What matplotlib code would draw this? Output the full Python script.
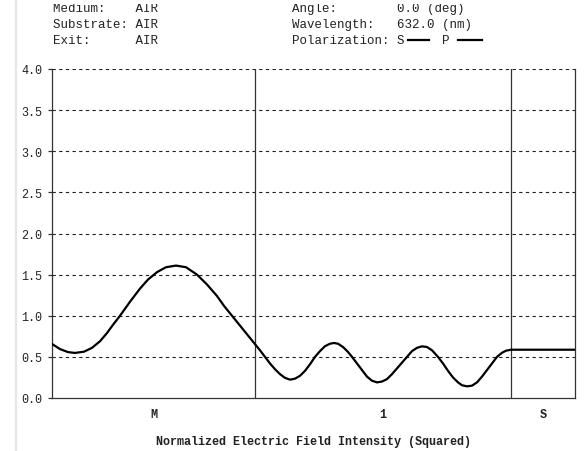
import matplotlib
matplotlib.use("Agg")
import matplotlib.pyplot as plt
from matplotlib.lines import Line2D
from matplotlib.patches import Rectangle

# ---- data (position across the stack, arbitrary units) ----
boundaries = [0, 203, 459, 523]          # M | layer 1 | S
region_labels = ["M", "1", "S"]

position_m = [0, 8, 16, 23, 32, 40, 48, 55, 61, 68, 78, 88, 96, 105, 114, 124,
              134, 145, 155, 165, 172, 180, 188, 196, 203]
intensity_m = [0.657, 0.595, 0.558, 0.548, 0.563, 0.61, 0.69, 0.79, 0.89, 1.00,
               1.17, 1.33, 1.44, 1.53, 1.59, 1.61, 1.59, 1.50, 1.38, 1.24, 1.12,
               1.00, 0.88, 0.76, 0.655]

position_layer = [208, 213, 218, 223, 228, 233, 238, 243, 248, 253,
                  258, 263, 268, 273, 278, 282, 286, 291, 296, 300,
                  305, 310, 315, 320, 325, 330, 335, 340, 345, 350,
                  355, 360, 365, 370, 375, 380, 386, 391, 396, 401,
                  406, 410, 415, 420, 425, 430, 435, 440, 445, 450,
                  454, 459]
intensity_layer = [0.58, 0.50, 0.42, 0.35, 0.29, 0.245, 0.223, 0.235, 0.27, 0.33,
                   0.41, 0.50, 0.57, 0.63, 0.66, 0.669, 0.66, 0.62, 0.56, 0.50,
                   0.42, 0.34, 0.26, 0.21, 0.19, 0.20, 0.23, 0.29, 0.36, 0.43,
                   0.50, 0.57, 0.61, 0.628, 0.62, 0.58, 0.50, 0.42, 0.33, 0.25,
                   0.19, 0.155, 0.142, 0.15, 0.19, 0.26, 0.34, 0.42, 0.50, 0.55,
                   0.575, 0.587]

position_s = [523]
intensity_s = [0.587]

yticks = [0.0, 0.5, 1.0, 1.5, 2.0, 2.5, 3.0, 3.5, 4.0]

header_left = ["Medium:    AIR", "Substrate: AIR", "Exit:      AIR"]
header_right = ["Angle:        0.0 (deg)", "Wavelength:   632.0 (nm)",
                "Polarization: S     P"]
xlabel = "Normalized Electric Field Intensity (Squared)"

position = position_m + position_layer + position_s
intensity = intensity_m + intensity_layer + intensity_s

W, H = 584, 452
fig = plt.figure(figsize=(W / 100, H / 100), dpi=100)
fig.patch.set_facecolor("white")
ax = fig.add_axes([52 / W, 1 - 399 / H, (575 - 52) / W, (399 - 70) / H])

mono = "Liberation Mono"
ink = "#222222"

ax.plot(position, intensity, color="black", lw=1.6, zorder=3,
        solid_joinstyle="round", solid_capstyle="round")
for b in boundaries[1:-1]:
    ax.axvline(b, color="#333333", lw=0.9, zorder=2)

ax.set_xlim(boundaries[0], boundaries[-1])
ax.set_ylim(0, 4)
ax.set_yticks(yticks)
ax.set_yticklabels([f"{v:.1f}" for v in yticks], family=mono, fontsize=8.5, color=ink)
for v in yticks[1:]:
    ax.axhline(v, color="#222222", lw=0.8, linestyle=(0, (3, 3)), zorder=1)

centers = [(boundaries[i] + boundaries[i + 1]) / 2 for i in range(len(region_labels))]
ax.set_xticks(centers)
ax.set_xticklabels(region_labels, family=mono, fontsize=8.5, color=ink, fontweight="bold")
ax.tick_params(axis="x", length=0, pad=7)
ax.tick_params(axis="y", length=3, width=0.9, color="#333333", pad=4)

ax.spines["top"].set_visible(False)
for s in ["left", "bottom", "right"]:
    ax.spines[s].set_color("#333333")
    ax.spines[s].set_linewidth(0.9)

fig.text(313 / W, 1 - 442 / H, xlabel, family=mono, fontsize=8.5, color=ink,
         ha="center", va="center", fontweight="bold")

rows_y = [9, 25, 41]
for t, y in zip(header_left, rows_y):
    fig.text(53 / W, 1 - y / H, t, family=mono, fontsize=9, color=ink, va="center")
for t, y in zip(header_right, rows_y):
    fig.text(292 / W, 1 - y / H, t, family=mono, fontsize=9, color=ink, va="center")

# polarization legend dashes
for x0, x1 in [(408, 429), (458, 482)]:
    fig.add_artist(Line2D([x0 / W, x1 / W], [1 - 41 / H, 1 - 41 / H],
                          color="black", lw=1.6, transform=fig.transFigure))

# the top of the first header row is cut off in the screenshot
fig.add_artist(Rectangle((0, 1 - 5 / H), 1, 5 / H, transform=fig.transFigure,
                         facecolor="white", edgecolor="none", zorder=10))

# light window border at left
fig.add_artist(Line2D([16 / W, 16 / W], [0, 1], color="#e6e6e6", lw=1.5,
                      transform=fig.transFigure, zorder=11))

fig.savefig("out.png", dpi=100, facecolor="white")
